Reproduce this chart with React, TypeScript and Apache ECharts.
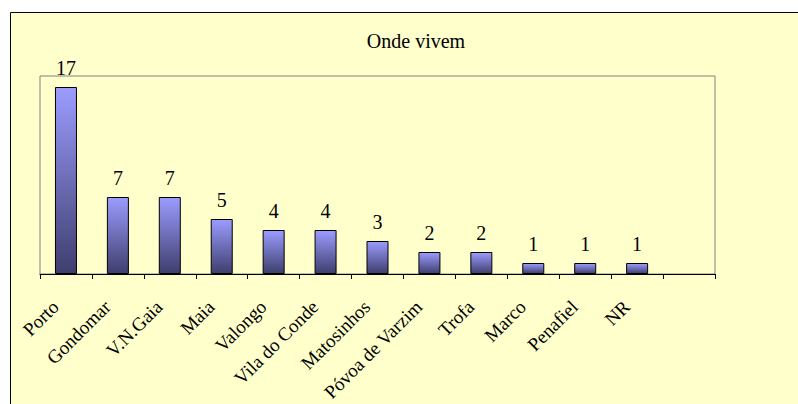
import React, { useEffect, useRef } from "react";
import * as echarts from "echarts";

const categories = [
  "Porto",
  "Gondomar",
  "V.N.Gaia",
  "Maia",
  "Valongo",
  "Vila do Conde",
  "Matosinhos",
  "Póvoa de Varzim",
  "Trofa",
  "Marco",
  "Penafiel",
  "NR",
  "",
];
const values: (number | null)[] = [17, 7, 7, 5, 4, 4, 3, 2, 2, 1, 1, 1, null];
const titleText = "Onde vivem";

export default function App() {
  const ref = useRef<HTMLDivElement>(null);
  useEffect(() => {
    if (!ref.current) return;
    const chart = echarts.init(ref.current, null, { renderer: "svg" });
    const font = "'Liberation Serif', 'Times New Roman', serif";
    chart.setOption({
      animation: false,
      backgroundColor: "#ffffff",
      graphic: [
        {
          type: "rect",
          z: -10,
          shape: { x: 10.5, y: 12.5, width: 820, height: 420 },
          style: { fill: "#FFFFCC", stroke: "#000000", lineWidth: 1 },
        },
      ],
      title: {
        text: titleText,
        left: 411,
        top: 26,
        textAlign: "center",
        textStyle: {
          fontFamily: font,
          fontWeight: "normal",
          fontSize: 20,
          color: "#000",
        },
      },
      grid: {
        left: 40,
        top: 76,
        width: 675,
        height: 198,
        containLabel: false,
        outerBoundsMode: "none",
        show: true,
        borderColor: "#808080",
        borderWidth: 1,
        backgroundColor: "transparent",
      },
      xAxis: {
        type: "category",
        data: categories,
        boundaryGap: true,
        axisLine: { show: true, lineStyle: { color: "#000", width: 1 } },
        axisTick: { show: true, length: 5, lineStyle: { color: "#000" } },
        axisLabel: {
          rotate: 45,
          interval: 0,
          margin: 19,
          padding: [0, 15, 0, 0],
          fontFamily: font,
          fontSize: 19,
          color: "#000",
        },
      },
      yAxis: {
        type: "value",
        min: 0,
        max: 18,
        show: false,
      },
      series: [
        {
          type: "bar",
          data: values,
          barWidth: 22,
          itemStyle: {
            borderColor: "#000",
            borderWidth: 1,
            color: new echarts.graphic.LinearGradient(0, 0, 0, 1, [
              { offset: 0, color: "#9C9CFF" },
              { offset: 1, color: "#3E3E6E" },
            ]),
          },
          label: {
            show: true,
            position: "top",
            distance: 9,
            fontFamily: font,
            fontSize: 20,
            color: "#000",
          },
        },
      ],
    });
    return () => chart.dispose();
  }, []);
  return (
    <div
      ref={ref}
      style={{ position: "fixed", left: 0, top: 0, width: 798, height: 404 }}
    />
  );
}
